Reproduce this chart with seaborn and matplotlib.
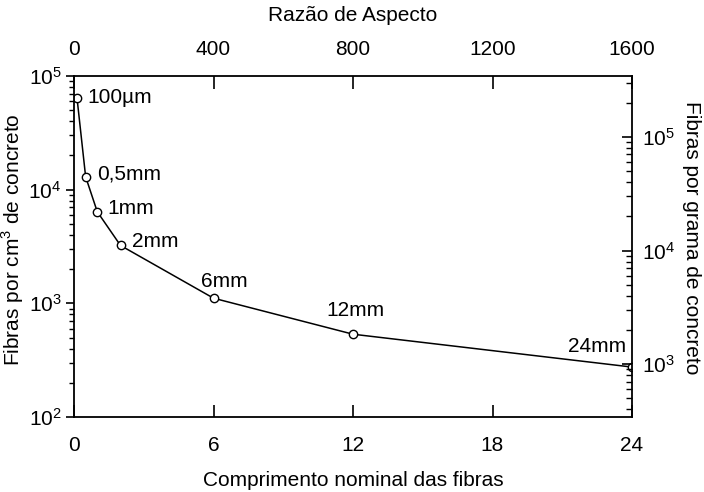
import matplotlib
matplotlib.use("Agg")
import matplotlib.pyplot as plt
import seaborn as sns
import pandas as pd
from matplotlib.ticker import LogLocator, NullFormatter

sns.set_theme(style="white")
plt.rcParams['font.family'] = ['Liberation Sans', 'DejaVu Sans']
plt.rcParams['mathtext.fontset'] = 'custom'
plt.rcParams['mathtext.rm'] = 'Liberation Sans'
plt.rcParams['text.color'] = 'black'
plt.rcParams['axes.labelcolor'] = 'black'

# Data
lengths_mm = [0.13, 0.5, 1, 2, 6, 12, 24]
fibers_per_cm3 = [64000, 13000, 6400, 3230, 1110, 535, 275]
point_labels = ["100\u00b5m", "0,5mm", "1mm", "2mm", "6mm", "12mm", "24mm"]
bottom_ticks = [0, 6, 12, 18, 24]
top_ticks = [0, 400, 800, 1200, 1600]
right_ratio = 3.43  # fibras por grama vs por cm3 (scale offset)

df = pd.DataFrame({"x": lengths_mm, "y": fibers_per_cm3})

FS = 15
fig = plt.figure(figsize=(7.04, 4.92), dpi=100)
ax = fig.add_axes([74/704, 1-417/492, (632-74)/704, (417-76)/492])

sns.lineplot(data=df, x="x", y="y", ax=ax, color="black", linewidth=1.1,
             marker="o", markersize=6, markerfacecolor="white",
             markeredgecolor="black", markeredgewidth=1.0)
ax.set_yscale("log")
ax.set_xlim(0, 24)
ax.set_ylim(1e2, 1e5)
ax.set_xticks(bottom_ticks)
ax.set_xticklabels([str(t) for t in bottom_ticks])
ax.yaxis.set_major_locator(LogLocator(base=10, numticks=10))
ax.yaxis.set_minor_locator(LogLocator(base=10, subs=range(2, 10), numticks=20))
ax.yaxis.set_minor_formatter(NullFormatter())
for s in ax.spines.values():
    s.set_color("black")
    s.set_linewidth(1.3)
ax.tick_params(axis="x", direction="in", length=9, width=1.2, labelsize=FS, pad=14, colors="black")
ax.tick_params(axis="y", which="major", direction="out", length=6, width=1.2, labelsize=FS, pad=3, colors="black")
ax.tick_params(axis="y", which="minor", direction="out", length=3.5, width=1.0, colors="black")

xl = ax.set_xlabel("Comprimento nominal das fibras", fontsize=FS, va="center")
ax.xaxis.set_label_coords(0.5, (417 - 481) / 341)
yl = ax.set_ylabel("Fibras por cm$^3$ de concreto", fontsize=FS, va="center", ha="center")
ax.yaxis.set_label_coords((13 - 74) / 558, (417 - 240) / 341)

# point labels (offsets in points)
offsets = [(7.2, 0.5, "left"), (8.6, 2, "left"), (7.2, 2, "left"),
           (8, 3, "left"), (8, 12, "center"), (2, 17, "center"),
           (-4.5, 14.5, "right")]
for x, y, lab, (dx, dy, ha) in zip(lengths_mm, fibers_per_cm3, point_labels, offsets):
    ax.annotate(lab, (x, y), xytext=(dx, dy), textcoords="offset points",
                ha=ha, va="center", fontsize=FS, color="black")

# top axis
axt = ax.twiny()
axt.set_xlim(0, 1600)
axt.set_xticks(top_ticks)
axt.set_xticklabels([str(t) for t in top_ticks])
axt.tick_params(axis="x", direction="in", length=9, width=1.2, labelsize=FS, pad=12, colors="black")
axt.set_xlabel("Raz\u00e3o de Aspecto", fontsize=FS, va="center")
axt.xaxis.set_label_coords(0.5, 1 + (76 - 16) / 341)
for s in axt.spines.values():
    s.set_visible(False)

# right axis
axr = ax.twinx()
axr.set_yscale("log")
axr.set_ylim(1e2 * right_ratio, 1e5 * right_ratio)
axr.yaxis.set_major_locator(LogLocator(base=10, numticks=10))
axr.yaxis.set_minor_locator(LogLocator(base=10, subs=range(2, 10), numticks=20))
axr.yaxis.set_minor_formatter(NullFormatter())
axr.tick_params(axis="y", which="major", direction="in", length=7.5, width=1.2, labelsize=FS, pad=7, colors="black")
axr.tick_params(axis="y", which="minor", direction="in", length=4, width=1.0, colors="black")
axr.set_ylabel("Fibras por grama de concreto", fontsize=FS, rotation=270,
               va="center", ha="center")
axr.yaxis.set_label_coords((692 - 74) / 558, (417 - 238) / 341)
for s in axr.spines.values():
    s.set_visible(False)

fig.savefig("out.png", dpi=100, facecolor="white")
